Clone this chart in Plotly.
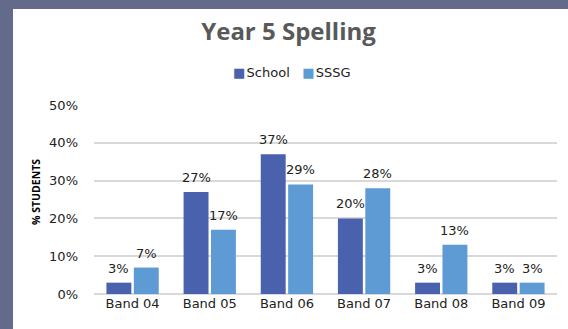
import plotly.graph_objects as go

categories = ["Band 04", "Band 05", "Band 06", "Band 07", "Band 08", "Band 09"]
school = [3, 27, 37, 20, 3, 3]
sssg = [7, 17, 29, 28, 13, 3]
y_ticks = [0, 10, 20, 30, 40, 50]
y_tick_labels = [f"{v}%" for v in y_ticks]

TEXT = "#222222"
FONT = "'DejaVu Sans', sans-serif"
TITLE_FONT = "'Open Sans', sans-serif"
FRAME = "#646A8A"
SCHOOL_COLOR = "#4A62AE"
SSSG_COLOR = "#5E9BD5"

W, H = 568, 329
L, R, T, B = 94, 11, 105, 35
PW, PH = W - L - R, H - T - B
BARGAP, GROUPGAP = 0.29, 0.09
# horizontal offset of each bar centre from its category centre, in px
cat_px = PW / len(categories)
half = cat_px * (1 - BARGAP) / 4

fig = go.Figure()
series = [("School", school, SCHOOL_COLOR, -half), ("SSSG", sssg, SSSG_COLOR, half)]
for name, vals, color, _ in series:
    fig.add_trace(go.Bar(name=name, x=categories, y=vals, showlegend=False,
                         marker=dict(color=color, line=dict(width=0))))

# value labels above each bar
for name, vals, color, dx in series:
    for c, v in zip(categories, vals):
        fig.add_annotation(x=c, y=v, text=f"{v}%", showarrow=False,
                           xshift=dx, yshift=5, yanchor="bottom",
                           font=dict(size=13, color=TEXT, family=FONT))

# compact legend row: coloured square keys followed by series names
legend_text = "&nbsp;&nbsp;&nbsp;".join(
    f'<span style="color:{color}">■</span>&#8202;{name}' for name, _, color, _ in series
)
fig.add_annotation(xref="paper", yref="paper",
                   x=(292 - L) / PW, y=(H - 72 - B) / PH,
                   xanchor="center", yanchor="middle", showarrow=False,
                   text=legend_text,
                   font=dict(size=13, color=TEXT, family=FONT))

# rotated axis title
fig.add_annotation(xref="paper", yref="paper",
                   x=(36 - L) / PW, y=(H - 192 - B) / PH,
                   xanchor="center", yanchor="middle", showarrow=False,
                   textangle=-90, text="<b>% STUDENTS</b>",
                   font=dict(size=10.5, color="#000000", family=TITLE_FONT))

# slate frame strips along the top and left edges
fig.add_shape(type="rect", xref="paper", yref="paper",
              x0=-L / PW, x1=(W - L) / PW,
              y0=(H - 9 - B) / PH, y1=(H - B) / PH,
              fillcolor=FRAME, line=dict(width=0), layer="below")
fig.add_shape(type="rect", xref="paper", yref="paper",
              x0=-L / PW, x1=(13 - L) / PW,
              y0=-B / PH, y1=(H - B) / PH,
              fillcolor=FRAME, line=dict(width=0), layer="below")

fig.update_layout(
    width=W, height=H,
    margin=dict(l=L, r=R, t=T, b=B),
    paper_bgcolor="white", plot_bgcolor="rgba(0,0,0,0)",
    barmode="group", bargap=BARGAP, bargroupgap=GROUPGAP,
    font=dict(family=FONT, color=TEXT, size=13),
    title=dict(text="<b>Year 5 Spelling</b>", x=0.508, xanchor="center",
               y=1 - 32 / H, yanchor="middle",
               font=dict(size=24, color="#595959", family=TITLE_FONT)),
    showlegend=False,
)
fig.update_xaxes(showgrid=False, showline=False, ticks="",
                 tickfont=dict(size=13, color=TEXT))
fig.update_yaxes(range=[0, 50], tickvals=y_ticks, ticktext=y_tick_labels,
                 showgrid=True, gridcolor="#D9D9D9", gridwidth=1.5,
                 zeroline=True, zerolinecolor="#D9D9D9", zerolinewidth=1.5,
                 showline=False, ticks="", ticklabelstandoff=15,
                 tickfont=dict(size=13, color=TEXT))

fig.write_html("out.html")
